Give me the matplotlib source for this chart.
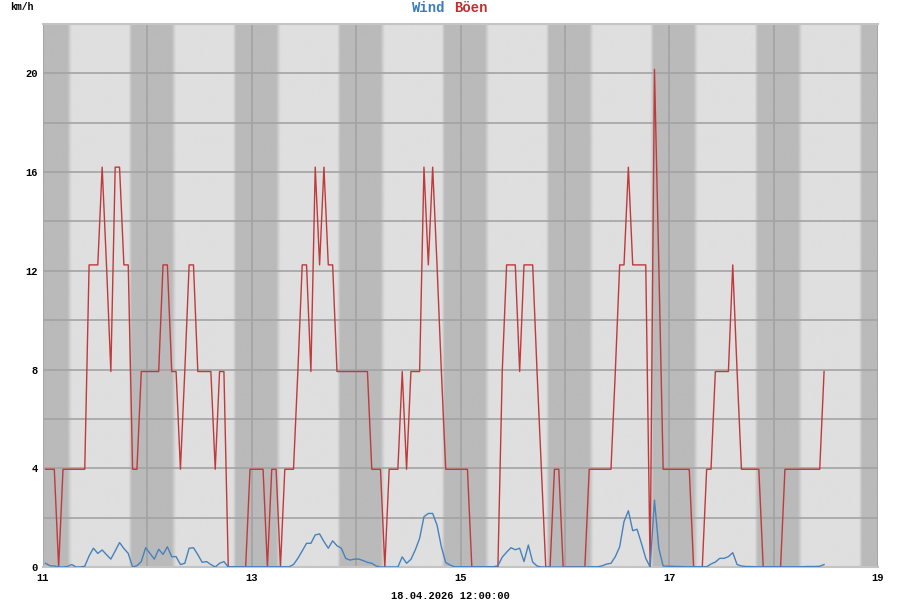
import numpy as np
import matplotlib
matplotlib.use("Agg")
import matplotlib.pyplot as plt

# ---------------- data (hourly samples, km/h) ----------------
START_DAY = 11 + 0.6 / 24      # first sample (day of month, fractional)
STEP_DAYS = 1 / 24             # hourly samples

gusts = [
    3.96, 3.96, 3.96, 0, 3.96, 3.96, 3.96, 3.96, 3.96, 3.96,
    12.24, 12.24, 12.24, 16.2, 12.24, 7.92, 16.2, 16.2, 12.24, 12.24,
    3.96, 3.96, 7.92, 7.92, 7.92, 7.92, 7.92, 12.24, 12.24, 7.92,
    7.92, 3.96, 7.92, 12.24, 12.24, 7.92, 7.92, 7.92, 7.92, 3.96,
    7.92, 7.92, 0, 0, 0, 0, 0, 3.96, 3.96, 3.96,
    3.96, 0, 3.96, 3.96, 0, 3.96, 3.96, 3.96, 7.92, 12.24,
    12.24, 7.92, 16.2, 12.24, 16.2, 12.24, 12.24, 7.92, 7.92, 7.92,
    7.92, 7.92, 7.92, 7.92, 7.92, 3.96, 3.96, 3.96, 0, 3.96,
    3.96, 3.96, 7.92, 3.96, 7.92, 7.92, 7.92, 16.2, 12.24, 16.2,
    12.24, 7.92, 3.96, 3.96, 3.96, 3.96, 3.96, 3.96, 0, 0,
    0, 0, 0, 0, 0, 7.92, 12.24, 12.24, 12.24, 7.92,
    12.24, 12.24, 12.24, 7.92, 3.96, 0, 0, 3.96, 3.96, 0,
    0, 0, 0, 0, 0, 3.96, 3.96, 3.96, 3.96, 3.96,
    3.96, 7.92, 12.24, 12.24, 16.2, 12.24, 12.24, 12.24, 12.24, 0,
    20.16, 12.24, 3.96, 3.96, 3.96, 3.96, 3.96, 3.96, 3.96, 0,
    0, 0, 3.96, 3.96, 7.92, 7.92, 7.92, 7.92, 12.24, 7.92,
    3.96, 3.96, 3.96, 3.96, 3.96, 0, 0, 0, 0, 0,
    3.96, 3.96, 3.96, 3.96, 3.96, 3.96, 3.96, 3.96, 3.96, 7.92,
]

wind = [
    0.15, 0.05, 0.04, 0, 0, 0.02, 0.10, 0, 0, 0.03,
    0.45, 0.76, 0.55, 0.69, 0.50, 0.32, 0.65, 0.99, 0.75, 0.55,
    0, 0.05, 0.22, 0.78, 0.55, 0.32, 0.72, 0.51, 0.82, 0.42,
    0.42, 0.10, 0.15, 0.76, 0.78, 0.50, 0.19, 0.22, 0.10, 0,
    0.15, 0.22, 0, 0.01, 0.01, 0.01, 0.01, 0.01, 0.01, 0.01,
    0.01, 0.01, 0.01, 0.01, 0.01, 0.01, 0.01, 0.10, 0.35, 0.65,
    0.96, 0.96, 1.30, 1.34, 1.03, 0.76, 1.06, 0.86, 0.76, 0.35,
    0.28, 0.32, 0.32, 0.26, 0.19, 0.15, 0.04, 0, 0, 0,
    0, 0, 0.41, 0.15, 0.31, 0.69, 1.16, 2.04, 2.17, 2.17,
    1.70, 0.82, 0.18, 0.08, 0.01, 0.01, 0.01, 0.01, 0.01, 0.01,
    0.01, 0.01, 0.01, 0.01, 0.05, 0.40, 0.60, 0.78, 0.70, 0.76,
    0.22, 0.89, 0.20, 0.04, 0, 0, 0, 0, 0, 0,
    0, 0, 0, 0, 0, 0.01, 0.01, 0.01, 0.05, 0.12,
    0.15, 0.42, 0.82, 1.84, 2.28, 1.47, 1.53, 0.96, 0.35, 0,
    2.71, 0.76, 0.04, 0.03, 0.03, 0.02, 0.02, 0.01, 0.01, 0.01,
    0.01, 0.01, 0.01, 0.12, 0.20, 0.35, 0.35, 0.42, 0.58, 0.10,
    0.04, 0.02, 0.02, 0.01, 0.01, 0.01, 0.01, 0.01, 0.01, 0.01,
    0.01, 0.01, 0.01, 0.01, 0.01, 0.02, 0.02, 0.02, 0.03, 0.10,
]

x_ticks_labeled = [11, 13, 15, 17, 19]
x_ticks_grid = [12, 14, 16, 18]
y_ticks_labeled = [0, 4, 8, 12, 16, 20]
y_ticks_grid = [2, 6, 10, 14, 18]
title_parts = ["Wind", "Böen"]
unit_label = "km/h"
date_label = "18.04.2026 12:00:00"

# twilight model for background shading (hour of day)
NIGHT_HOURS = [0, 5.6, 6.6, 19.7, 20.4, 24]
NIGHT_LEVEL = [1, 1, 0, 0, 1, 1]

# ---------------- style ----------------
RED = "#c0393b"
BLUE = "#4682bd"
LIGHT = np.array([223, 223, 223]) / 255
DARK = np.array([186, 186, 186]) / 255
GRID = "#a3a3a3"
FONT = "Liberation Mono"

times = START_DAY + STEP_DAYS * np.arange(len(gusts))

fig = plt.figure(figsize=(9, 6), dpi=100)
ax = fig.add_axes([43 / 900, 33 / 600, 835 / 900, 543 / 600])
ax.set_xlim(11, 19)
ax.set_ylim(0, 22)

# day/night background
tt = np.linspace(11, 19, 4000)
hours = (tt % 1) * 24
level = np.interp(hours, NIGHT_HOURS, NIGHT_LEVEL)
img = LIGHT[None, :] - (LIGHT - DARK)[None, :] * level[:, None]
ax.imshow(img[None, :, :], extent=(11, 19, 0, 22), aspect="auto",
          interpolation="bilinear", zorder=0)

ax.set_axisbelow(True)
ax.set_xticks(x_ticks_labeled)
ax.set_xticks(x_ticks_grid, minor=True)
ax.set_yticks(y_ticks_labeled)
ax.set_yticks(y_ticks_grid, minor=True)
ax.grid(which="both", color=GRID, lw=1.2)
ax.tick_params(which="both", length=0)
ax.tick_params(axis="y", pad=4)
ax.tick_params(axis="x", pad=4)
for lab in ax.get_xticklabels() + ax.get_yticklabels():
    lab.set_fontfamily(FONT)
    lab.set_fontweight("bold")
    lab.set_fontsize(7.5)

for s in ["left", "right"]:
    ax.spines[s].set_visible(False)
for s in ["top", "bottom"]:
    ax.spines[s].set_color("#c4c4c4")
    ax.spines[s].set_linewidth(1.5)

ax.plot(times, gusts, color=RED, lw=1.0, zorder=3)
ax.plot(times, wind, color=BLUE, lw=1.0, zorder=4)

# texts
fig.text(10 / 900, 1 - 7 / 600, unit_label, fontfamily=FONT, fontweight="bold",
         fontsize=7, ha="left", va="center")
fig.text(445.5 / 900, 1 - 8 / 600, title_parts[0], fontfamily=FONT,
         fontweight="bold", fontsize=10, color="#3a7dbd", ha="right", va="center")
fig.text(453.8 / 900, 1 - 8 / 600, title_parts[1], fontfamily=FONT,
         fontweight="bold", fontsize=10, color="#c0302f", ha="left", va="center")
fig.text(450 / 900, 1 - 596 / 600, date_label, fontfamily=FONT,
         fontweight="bold", fontsize=7.5, ha="center", va="center")

fig.savefig("out.png", dpi=100, facecolor="white")
